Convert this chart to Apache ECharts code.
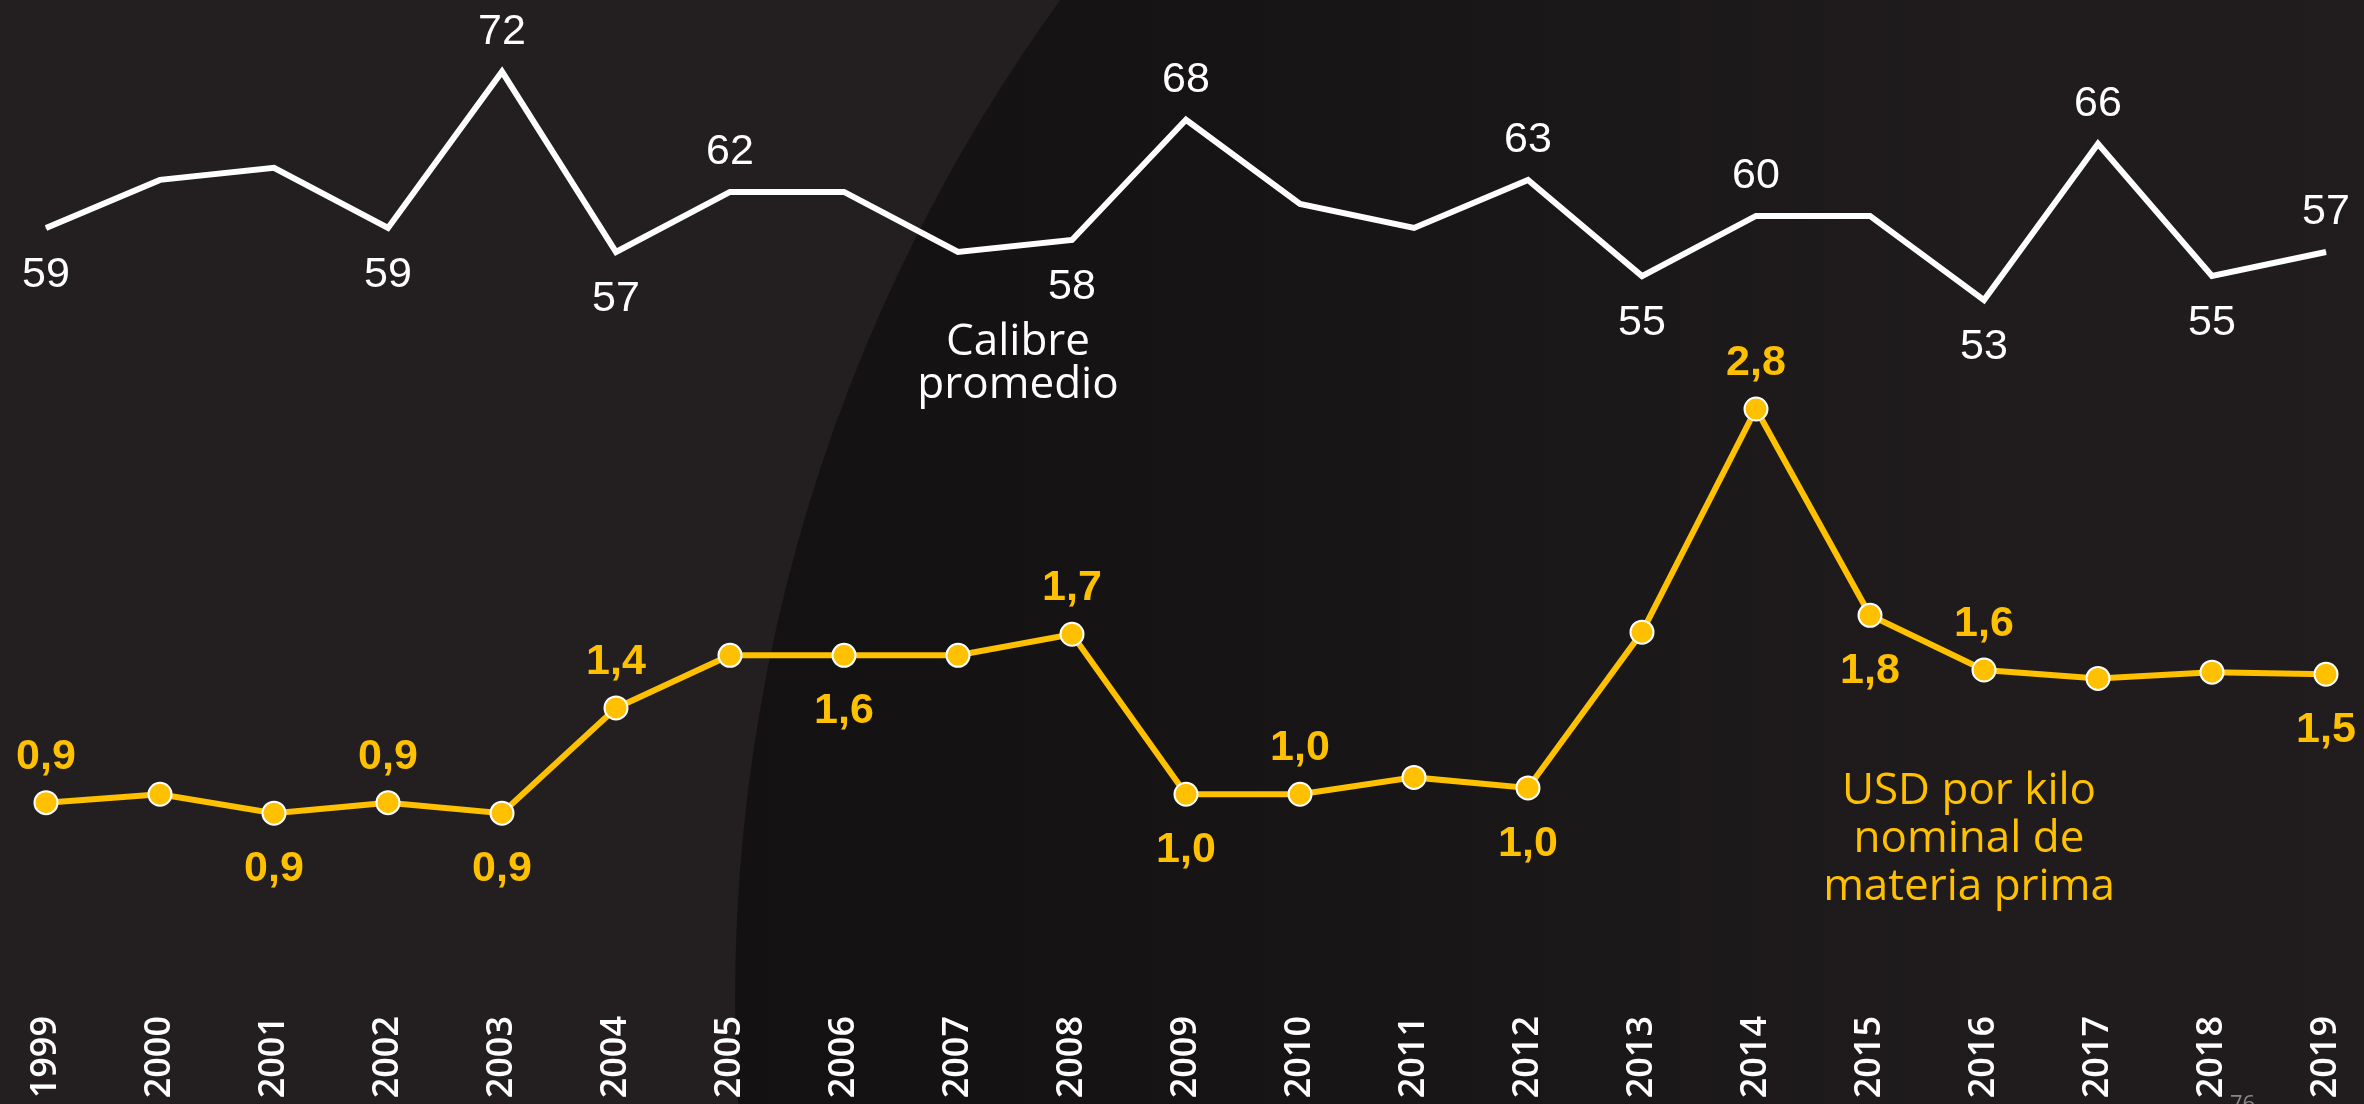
<!DOCTYPE html>
<html>
<head>
<meta charset="utf-8">
<style>
  html, body { margin: 0; padding: 0; background: #231f20; }
  #chart { width: 2364px; height: 1104px; }
</style>
<script src="https://cdn.jsdelivr.net/npm/echarts@6/dist/echarts.min.js"></script>
</head>
<body>
<div id="chart"></div>
<script>
// years on the x axis
const years = ['1999', '2000', '2001', '2002', '2003', '2004', '2005', '2006', '2007', '2008',
  '2009', '2010', '2011', '2012', '2013', '2014', '2015', '2016', '2017', '2018', '2019'];
// calibre promedio
const calibre = [59, 63, 64, 59, 72, 57, 62, 62, 57, 58, 68, 61, 59, 63, 55, 60, 60, 53, 66, 55, 57];
// USD por kilo nominal de materia prima
const usdKilo = [0.93, 0.97, 0.88, 0.93, 0.88, 1.38, 1.63, 1.63, 1.63, 1.73, 0.97, 0.97, 1.05, 1.00,
  1.74, 2.80, 1.82, 1.56, 1.52, 1.55, 1.54];

// which points carry a value label, and on which side
const calibreLabelPos = ['bottom', null, null, 'bottom', 'top', 'bottom', 'top', null, null, 'bottom',
  'top', null, null, 'top', 'bottom', 'top', null, 'bottom', 'top', 'bottom', 'top'];
const usdLabelPos = ['top', null, 'bottom', 'top', 'bottom', 'top', null, 'bottom', null, 'top',
  'bottom', 'top', null, 'bottom', null, 'top', 'bottom', 'top', null, null, 'bottom'];

const YELLOW = '#ffc000';
const NUM_FONT = '"Liberation Sans", Arial, sans-serif';
const TEXT_FONT = '"Open Sans", "Noto Sans", sans-serif';

const chart = echarts.init(document.getElementById('chart'));

function withLabels(values, positions, dist) {
  return values.map((v, i) => {
    const pos = positions[i];
    if (!pos) return { value: v, label: { show: false } };
    return { value: v, label: { show: true, position: pos, distance: pos === 'top' ? dist[0] : dist[1] } };
  });
}

chart.setOption({
  backgroundColor: '#231f20',
  animation: false,
  grid: { left: 46, right: 38, top: 0, bottom: 94 },
  xAxis: {
    type: 'category',
    data: years,
    boundaryGap: false,
    axisLine: { show: false },
    axisTick: { show: false },
    splitLine: { show: false },
    axisLabel: {
      rotate: 90,
      margin: 6,
      color: '#ffffff',
      fontFamily: TEXT_FONT,
      fontWeight: 600,
      fontSize: 36,
      interval: 0,
    },
  },
  yAxis: [{
    type: 'value',
    min: -6.06,
    max: 77.965,
    show: false,
    splitLine: { show: false },
  }, {
    type: 'value',
    min: -0.055,
    max: 4.743,
    show: false,
    splitLine: { show: false },
  }],
  graphic: [{
    type: 'circle',
    z: 0,
    silent: true,
    shape: { cx: 2435, cy: 1000, r: 1700 },
    style: {
      fill: {
        type: 'linear', x: 0, y: 0, x2: 1, y2: 0,
        colorStops: [
          { offset: 0, color: '#131112' },
          { offset: 0.15, color: '#161415' },
          { offset: 0.37, color: '#201c1d' },
          { offset: 1, color: '#231f20' },
        ],
      },
    },
  }, {
    type: 'text',
    z: 5,
    x: 1018,
    y: 364,
    style: {
      text: 'Calibre\npromedio',
      fill: '#ffffff',
      fontFamily: TEXT_FONT,
      fontSize: 44,
      lineHeight: 43,
      align: 'center',
      verticalAlign: 'middle',
    },
  }, {
    type: 'text',
    z: 5,
    x: 1969,
    y: 839,
    style: {
      text: 'USD por kilo\nnominal de\nmateria prima',
      fill: YELLOW,
      fontFamily: TEXT_FONT,
      fontSize: 44,
      lineHeight: 48,
      align: 'center',
      verticalAlign: 'middle',
    },
  }, {
    type: 'text',
    z: 5,
    x: 2230,
    y: 1094,
    style: {
      text: '76',
      fill: '#8a8687',
      fontFamily: TEXT_FONT,
      fontSize: 22,
    },
  }],
  series: [{
    name: 'Calibre promedio',
    type: 'line',
    yAxisIndex: 0,
    data: withLabels(calibre, calibreLabelPos, [18, 25]),
    symbol: 'circle',
    symbolSize: 1,
    itemStyle: { color: '#ffffff' },
    lineStyle: { color: '#ffffff', width: 6, join: 'miter' },
    label: {
      color: '#ffffff',
      fontFamily: NUM_FONT,
      fontSize: 43,
    },
  }, {
    name: 'USD por kilo',
    type: 'line',
    yAxisIndex: 1,
    data: withLabels(usdKilo, usdLabelPos, [12, 22]),
    symbol: 'circle',
    symbolSize: 23,
    itemStyle: { color: YELLOW, borderColor: '#ffffff', borderWidth: 2 },
    lineStyle: { color: YELLOW, width: 6, join: 'miter' },
    label: {
      color: YELLOW,
      fontFamily: NUM_FONT,
      fontWeight: 'bold',
      fontSize: 43,
      formatter: (p) => p.value.toFixed(1).replace('.', ','),
    },
  }],
});
</script>
</body>
</html>
